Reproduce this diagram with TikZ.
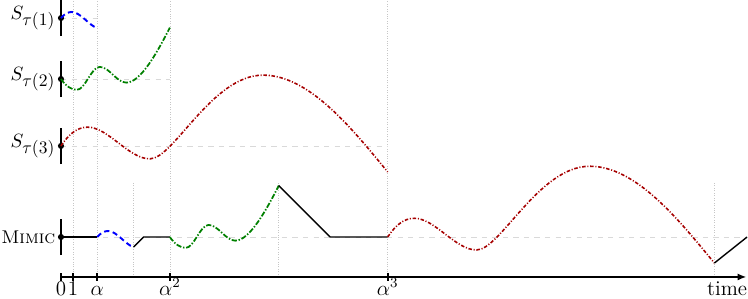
\documentclass[tikz,border=0pt]{standalone}
\usetikzlibrary{arrows.meta}
\newcommand\slab[1]{$S_{\hbox{\fontsize{10}{11}\selectfont$\tau(#1)$}}$}
\begin{document}
\begin{tikzpicture}[x=6.9pt,y=6.9pt,
  gridl/.style={gray!45, densely dotted, line width=0.4pt},
  basel/.style={gray!30, dashed, line width=0.4pt},
  bar/.style={line width=1pt},
  dot/.style={circle, fill, inner sep=0pt, minimum size=3.5pt},
  cone/.style={blue, densely dashed, line width=1.1pt},
  ctwo/.style={green!50!black, dash pattern=on 3pt off 1pt on 0.8pt off 1pt, line width=1pt},
  cthree/.style={red!65!black, dash pattern=on 2pt off 1pt on 0.6pt off 1pt, line width=0.9pt},
  mim/.style={line width=0.8pt},
  ticklab/.style={anchor=base, inner sep=0pt, font=\fontsize{12}{14}\selectfont},
  pics/curveone/.style={code={\draw[cone] (0,0) .. controls (0.3,0.35) and (0.6,0.5) .. (0.9,0.5)
      .. controls (1.6,0.5) and (2.4,-0.7) .. (3,-0.82);}},
  pics/curvetwo/.style={code={\draw[ctwo] (0,0) .. controls (0.4,-0.6) and (0.9,-0.9) .. (1.3,-0.9)
      .. controls (2.0,-0.9) and (2.5,1.0) .. (3.2,1.0)
      .. controls (4.0,1.0) and (4.6,-0.3) .. (5.4,-0.3)
      .. controls (6.6,-0.3) and (8.0,2.3) .. (9,4.25);}},
  pics/curvethree/.style={code={\draw[cthree] (0,0) .. controls (0.6,0.9) and (1.3,1.55) .. (2.2,1.55)
      .. controls (3.9,1.55) and (5.6,-1.07) .. (7.35,-1.07)
      .. controls (9.3,-1.07) and (12.5,5.85) .. (16.7,5.85)
      .. controls (20.5,5.85) and (24,1.5) .. (27,-2.15);}}
]
\useasboundingbox (-5.04,-1.82) rectangle (56.78,22.89);
% grid lines
\foreach \xx in {1,3,9,27} \draw[gridl] (\xx,0) -- (\xx,22.8);
\foreach \xx in {6,18,54} \draw[gridl] (\xx,0) -- (\xx,7.77);
% baselines
\draw[basel] (0,21.4) -- (3,21.4);
\draw[basel] (0,16.36) -- (9,16.36);
\draw[basel] (0,10.83) -- (27,10.83);
\draw[basel] (0,3.3) -- (56.7,3.3);
% vertical bars
\foreach \yy in {21.4,16.36,10.83,3.3} \draw[bar] (0,\yy-1.5) -- (0,\yy+1.5);
% dots and labels
\node[dot] (d1) at (0,21.4) {};
\node[dot] (d2) at (0,16.36) {};
\node[dot] (d3) at (0,10.83) {};
\node[dot] (dm) at (0,3.3) {};
\node[anchor=east, inner sep=1pt, font=\fontsize{11}{13}\selectfont] (l1) at (-0.3,21.4) {\slab{1}};
\node[anchor=east, inner sep=1pt, font=\fontsize{11}{13}\selectfont] (l2) at (-0.3,16.36) {\slab{2}};
\node[anchor=east, inner sep=1pt, font=\fontsize{11}{13}\selectfont] (l3) at (-0.3,10.83) {\slab{3}};
\node[anchor=east, inner sep=1pt, font=\fontsize{10.5}{12}\selectfont] (lm) at (-0.3,3.3) {\textsc{Mimic}};
% strategy curves
\pic at (0,21.4) {curveone};
\pic at (0,16.36) {curvetwo};
\pic at (0,10.83) {curvethree};
% mimic
\draw[mim] (dm.center) -- (3,3.3);
\pic at (3,3.3) {curveone};
\draw[mim] (6,2.48) -- (6.82,3.3) -- (9,3.3);
\pic at (9,3.3) {curvetwo};
\draw[mim] (18,7.55) -- (22.25,3.3) -- (27,3.3);
\pic at (27,3.3) {curvethree};
\draw[mim] (54,1.15) -- (56.7,3.3);
% time axis
\coordinate (o) at (0,0);
\coordinate (e) at (56.65,0);
\draw[line width=1pt,-{Latex[length=5pt,width=4pt]}] (o) -- (e);
\foreach \xx/\lab/\nm in {0/$0$/t0,1/$1$/t1,3/$\alpha$/t3,9/$\alpha^2$/t9,27/$\alpha^3$/t27}{
  \draw[bar] (\xx,-0.3) -- (\xx,0.3);
  \node[ticklab] (\nm) at (\xx,-1.5) {\lab};
}
\node[ticklab] (tl) at (55.05,-1.5) {time};
\end{tikzpicture}
\end{document}
